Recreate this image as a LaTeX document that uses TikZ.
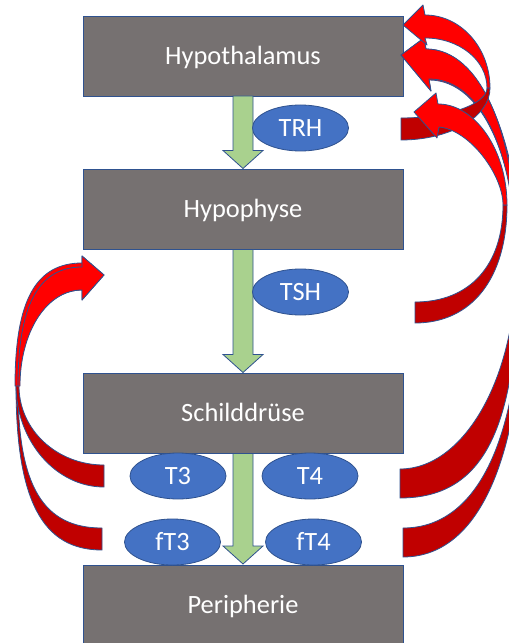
\documentclass[tikz,border=0pt]{standalone}
\usepackage{fontspec}
\setmainfont{Carlito}
\usetikzlibrary{shapes.geometric,calc}
\definecolor{boxgray}{HTML}{767171}
\definecolor{oline}{HTML}{2F528F}
\definecolor{ellblue}{HTML}{4472C4}
\definecolor{garr}{HTML}{A9D18E}
\definecolor{rbright}{HTML}{FF0000}
\definecolor{rdark}{HTML}{C00000}
\begin{document}
\begin{tikzpicture}[x=1bp,y=-1bp,
  font=\fontsize{26.4bp}{31bp}\selectfont,
  organ/.style={rectangle, fill=boxgray, draw=oline, line width=0.8bp,
    minimum width=320bp, minimum height=80bp, inner sep=0pt, outer sep=0pt,
    text=white, text height=16.7bp, text depth=0bp},
  hormone/.style={ellipse, fill=ellblue, draw=oline, line width=0.8bp,
    minimum width=96bp, minimum height=46bp, inner sep=0pt,
    text=white, text height=16.7bp, text depth=0bp},
  garrow/.style={fill=garr, draw=oline, line width=0.8bp, line join=miter},
  rb/.style={fill=rbright, draw=oline, line width=0.8bp, line join=round},
  rd/.style={fill=rdark, draw=oline, line width=0.8bp, line join=round}]
\useasboundingbox (0,0) rectangle (509,643);
\fill[white] (0,0) rectangle (509,643);
\clip (0,0) rectangle (509,643);

% organs
\node[organ] (hyp)    at (243,56)    {Hypothalamus};
\node[organ] (hypo)   at (243,209.5) {Hypophyse};
\node[organ] (schild) at (243,413.5) {Schilddrüse};
\node[organ] (peri)   at (243,605)   {Peripherie};

% green block arrows
\foreach \a/\b in {hyp/hypo, hypo/schild, schild/peri}{
  \draw[garrow] ($(\a.south)+(-10,0)$) -- ($(\b.north)+(-10,-19)$)
    -- ($(\b.north)+(-20,-19)$) -- ($(\b.north)+(0,-1)$)
    -- ($(\b.north)+(20,-19)$) -- ($(\b.north)+(10,-19)$)
    -- ($(\a.south)+(10,0)$) -- cycle;
}

% hormones
\node[hormone] (trh) at (300.5,128) {TRH};
\node[hormone] (tsh) at (300.5,292) {TSH};
\node[hormone] (t3)  at (178,476)   {T3};
\node[hormone] (t4)  at (310,476)   {T4};
\node[hormone] (ft3) at (172.5,542) {fT3};
\node[hormone] (ft4) at (313.5,542) {fT4};

% left feedback arrows (T3, fT3 -> Hypophyse)
\draw[rd] (102,550) .. controls (42,550) and (16,500) .. (16,385)
  -- (18,387) .. controls (18,486) and (43,528) .. (102,528) -- cycle;
\draw[rd] (104,487) .. controls (56,487) and (16,441) .. (16,385)
  -- (19,386) .. controls (19,430) and (57,465) .. (104,465) -- cycle;
\draw[rb] (15,386) .. controls (15,300) and (36,263) .. (82,263)
  -- (82,256) -- (104,275) -- (82,300) -- (82,290)
  .. controls (46,290) and (19,333) .. (19,386) -- cycle;
\draw[rb] (18,386) .. controls (18,306) and (38,267) .. (82,267)
  -- (82,256) -- (104,275) -- (82,300) -- (82,290)
  .. controls (46,290) and (20,333) .. (20,386) -- cycle;

% right feedback arrows
% fT4 -> Hypothalamus
\draw[rd] (403,557) .. controls (487,557) and (523,437) .. (523,290)
  -- (520,290) .. controls (520,421) and (485,528) .. (403,528) -- cycle;
\draw[rb] (523,290) .. controls (523,150) and (484,49) .. (426,49)
  -- (424,38) -- (401,55) -- (431,91) -- (429,80)
  .. controls (484,80) and (520,164) .. (520,290) -- cycle;
% T4 -> Hypothalamus
\draw[rd] (400,498) .. controls (483,498) and (518,430) .. (518,265)
  -- (516,265) .. controls (516,378) and (464,469) .. (400,469) -- cycle;
\draw[rb] (518,265) .. controls (518,135) and (481,49) .. (426,49)
  -- (424,38) -- (401,55) -- (431,91) -- (429,79)
  .. controls (481,79) and (516,153) .. (516,265) -- cycle;
% TRH -> Hypothalamus (ultrashort loop)
\draw[rd] (401,140) .. controls (450,140) and (490,117) .. (490,88)
  -- (487,88) .. controls (487,104) and (448,118) .. (401,118) -- cycle;
\draw[rb] (490,88) .. controls (490,48) and (461,15) .. (425,15)
  -- (423,5) -- (403,25) -- (427,45) -- (425,38)
  .. controls (459,38) and (487,60) .. (487,88) -- cycle;
% TSH -> Hypothalamus
\draw[rd] (415,323) .. controls (472,323) and (507,278) .. (507,205)
  -- (503,205) .. controls (503,265) and (470,302) .. (415,302) -- cycle;
\draw[rb] (507,205) .. controls (507,150) and (475,104) .. (438,104)
  -- (436,93) -- (414,112) -- (437,138) -- (439,127)
  .. controls (470,130) and (503,175) .. (503,205) -- cycle;
\end{tikzpicture}
\end{document}
